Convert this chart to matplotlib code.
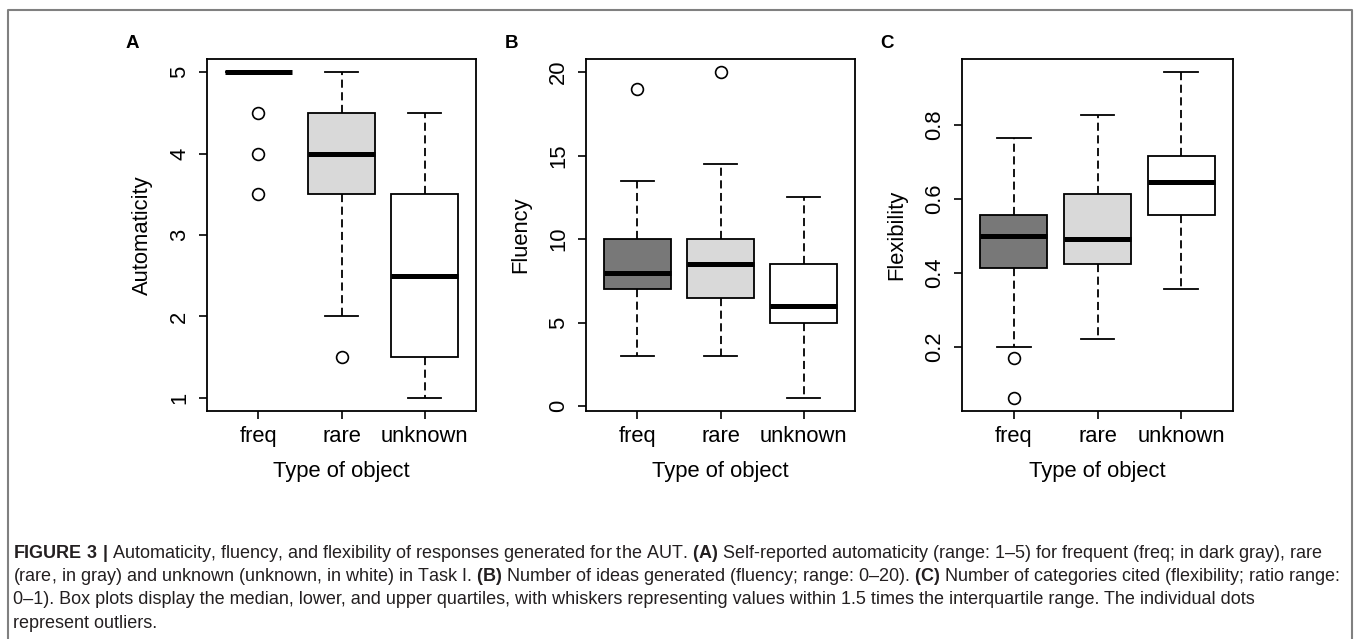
import matplotlib
matplotlib.use('Agg')
import matplotlib.pyplot as plt
from matplotlib.lines import Line2D

plt.rcParams['font.family'] = ['Liberation Sans', 'DejaVu Sans']
plt.rcParams['mathtext.fontset'] = 'custom'
plt.rcParams['mathtext.rm'] = 'Liberation Sans'
plt.rcParams['mathtext.bf'] = 'Liberation Sans:bold'

W, H = 1357, 639

groups = ['freq', 'rare', 'unknown']
fills = ['#787878', '#d9d9d9', '#ffffff']

# (A) automaticity
auto_med = [5, 4, 2.5]
auto_q1 = [5, 3.5, 1.5]
auto_q3 = [5, 4.5, 3.5]
auto_lo = [5, 2, 1]
auto_hi = [5, 5, 4.5]
auto_out = [[4.5, 4, 3.5], [1.5], []]
auto_ticks = [1, 2, 3, 4, 5]

# (B) fluency
flu_med = [8, 8.5, 6]
flu_q1 = [7, 6.5, 5]
flu_q3 = [10, 10, 8.5]
flu_lo = [3, 3, 0.5]
flu_hi = [13.5, 14.5, 12.5]
flu_out = [[19], [20], []]
flu_ticks = [0, 5, 10, 15, 20]

# (C) flexibility
flex_med = [0.50, 0.49, 0.645]
flex_q1 = [0.412, 0.423, 0.557]
flex_q3 = [0.557, 0.612, 0.715]
flex_lo = [0.20, 0.22, 0.355]
flex_hi = [0.765, 0.826, 0.942]
flex_out = [[0.171, 0.062], [], []]
flex_ticks = [0.2, 0.4, 0.6, 0.8]

caption = [
    r"$\mathbf{FIGURE\ 3\ |}$ Automaticity, fluency, and flexibility of responses generated for the AUT. "
    r"$\mathbf{(A)}$ Self-reported automaticity (range: 1–5) for frequent (freq; in dark gray), rare",
    r"(rare, in gray) and unknown (unknown, in white) in Task I. $\mathbf{(B)}$ Number of ideas generated "
    r"(fluency; range: 0–20). $\mathbf{(C)}$ Number of categories cited (flexibility; ratio range:",
    "0–1). Box plots display the median, lower, and upper quartiles, with whiskers representing values "
    "within 1.5 times the interquartile range. The individual dots",
    "represent outliers.",
]

fig = plt.figure(figsize=(W / 100, H / 100), dpi=100)
fs = 15.8


def panel(left, right, letter, ylabel, med, q1, q3, lo, hi, out, yticks):
    ax = fig.add_axes([left / W, 1 - 411 / H, (right - left) / W, 352 / H])
    stats = [dict(med=m, q1=a, q3=b, whislo=l, whishi=h, fliers=f)
             for m, a, b, l, h, f in zip(med, q1, q3, lo, hi, out)]
    res = ax.bxp(stats, positions=[1, 2, 3], widths=0.8, capwidths=0.4, patch_artist=True,
                 boxprops=dict(edgecolor='black', linewidth=1.3),
                 medianprops=dict(color='black', linewidth=3.6, solid_capstyle='butt'),
                 whiskerprops=dict(color='black', linewidth=1.3, linestyle=(0, (4.5, 2.5))),
                 capprops=dict(color='black', linewidth=1.3),
                 flierprops=dict(marker='o', markerfacecolor='none', markeredgecolor='black',
                                 markersize=8.5, markeredgewidth=1.2))
    for patch, c in zip(res['boxes'], fills):
        patch.set_facecolor(c)

    # R style limits: 4% padding
    vals = lo + hi + [v for f in out for v in f]
    pad = 0.04 * (max(vals) - min(vals))
    ax.set_ylim(min(vals) - pad, max(vals) + pad)
    ax.set_xlim(0.38, 3.62)

    ax.set_xticks([1, 2, 3])
    ax.set_xticklabels(groups, fontsize=fs)
    ax.set_yticks(yticks)
    ax.set_yticklabels([f'{t:g}' for t in yticks], fontsize=fs, rotation=90, va='center')
    ax.tick_params(axis='x', length=6, width=1.2, pad=5)
    ax.tick_params(axis='y', length=6, width=1.2, pad=6)
    for s in ax.spines.values():
        s.set_linewidth(1.3)

    ax.set_xlabel('Type of object', fontsize=fs, va='center')
    ax.xaxis.set_label_coords(0.5, -61 / 352)
    ax.set_ylabel(ylabel, fontsize=fs, va='center')
    ax.yaxis.set_label_coords(-65 / (right - left), 0.5)

    fig.text((left - 75) / W, 1 - 44 / H, letter, fontsize=13.5, fontweight='bold',
             ha='center', va='center')
    return ax


panel(207, 476, 'A', 'Automaticity', auto_med, auto_q1, auto_q3, auto_lo, auto_hi, auto_out, auto_ticks)
panel(586, 855, 'B', 'Fluency', flu_med, flu_q1, flu_q3, flu_lo, flu_hi, flu_out, flu_ticks)
panel(962, 1233, 'C', 'Flexibility', flex_med, flex_q1, flex_q3, flex_lo, flex_hi, flex_out, flex_ticks)

# frame around the figure
fig.add_artist(Line2D([8 / W, 8 / W, 1352 / W, 1352 / W], [0, 1 - 10 / H, 1 - 10 / H, 0],
                      color='#808080', lw=1.5, transform=fig.transFigure))

for i, line in enumerate(caption):
    fig.text(13 / W, 1 - (558 + 23.2 * i) / H, line, fontsize=13, color='#231f20',
             ha='left', va='baseline')

fig.savefig('out.png', dpi=100)
